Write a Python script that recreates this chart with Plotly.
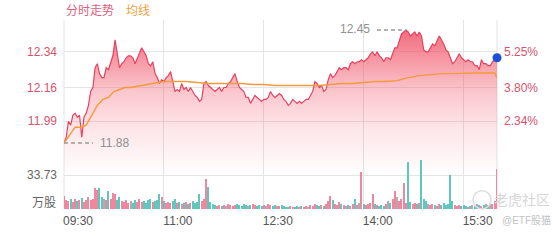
import plotly.graph_objects as go

# ---------------- data ----------------
time_labels = ["09:30", "11:00", "12:30", "14:00", "15:30"]
price_ticks = [11.99, 12.16, 12.34]
pct_labels = ["2.34%", "3.80%", "5.25%"]
vol_tick = 33.73
vol_unit = "万股"

# price sampled every 2 minutes from 09:30 to 16:00
price = [
    11.88, 11.91, 11.99, 11.97, 12.02, 12.03, 12.01, 12.02, 11.91, 12.01,
    12.03, 12.07, 12.14, 12.16, 12.26, 12.28, 12.23, 12.21, 12.21, 12.26,
    12.25, 12.28, 12.32, 12.40, 12.33, 12.26, 12.28, 12.29, 12.31, 12.32,
    12.32, 12.31, 12.28, 12.31, 12.34, 12.36, 12.34, 12.32, 12.28, 12.27,
    12.29, 12.23, 12.21, 12.18, 12.20, 12.19, 12.21, 12.22, 12.24, 12.18,
    12.14, 12.15, 12.14, 12.18, 12.15, 12.16, 12.14, 12.16, 12.14, 12.12,
    12.11, 12.09, 12.10, 12.18, 12.19, 12.17, 12.16, 12.15, 12.14, 12.15,
    12.16, 12.14, 12.16, 12.16, 12.18, 12.19, 12.21, 12.23, 12.19, 12.16,
    12.15, 12.14, 12.11, 12.11, 12.08, 12.10, 12.12, 12.11, 12.10, 12.09,
    12.10, 12.10, 12.11, 12.14, 12.12, 12.11, 12.12, 12.13, 12.12, 12.10,
    12.09, 12.07, 12.08, 12.10, 12.09, 12.08, 12.09, 12.08, 12.09, 12.10,
    12.10, 12.12, 12.14, 12.19, 12.18, 12.16, 12.17, 12.14, 12.15, 12.20,
    12.23, 12.21, 12.22, 12.24, 12.26, 12.25, 12.26, 12.26, 12.25, 12.28,
    12.29, 12.28, 12.29, 12.29, 12.30, 12.29, 12.30, 12.31, 12.33, 12.34,
    12.32, 12.34, 12.32, 12.31, 12.29, 12.31, 12.31, 12.30, 12.33, 12.36,
    12.36, 12.40, 12.43, 12.44, 12.45, 12.44, 12.42, 12.43, 12.44, 12.42,
    12.44, 12.42, 12.35, 12.34, 12.34, 12.36, 12.38, 12.37, 12.40, 12.42,
    12.40, 12.38, 12.35, 12.34, 12.31, 12.28, 12.29, 12.31, 12.33, 12.31,
    12.30, 12.29, 12.30, 12.29, 12.29, 12.27, 12.27, 12.25, 12.30, 12.28,
    12.28, 12.27, 12.27, 12.29, 12.30, 12.31,
]

# volume (万股) for the same 2-minute samples
volume = [
    13, 9, 8, 10, 7, 10, 8, 9, 11, 7,
    9, 12, 9, 10, 21, 19, 21, 12, 10, 9,
    18, 10, 16, 15, 9, 12, 8, 7, 9, 6,
    8, 6, 9, 7, 10, 7, 8, 6, 9, 10,
    7, 8, 9, 15, 12, 8, 6, 7, 6, 8,
    10, 6, 7, 5, 6, 7, 5, 6, 8, 6,
    7, 15, 8, 10, 30, 22, 7, 5, 4, 3,
    4, 3, 4, 3, 5, 4, 3, 4, 5, 4,
    3, 5, 4, 3, 4, 5, 4, 3, 4, 3,
    4, 3, 5, 4, 3, 4, 3, 3, 4, 3,
    2, 2, 3, 2, 2, 3, 2, 3, 2, 3,
    2, 4, 3, 5, 4, 3, 4, 3, 5, 8,
    13, 9, 5, 4, 7, 5, 4, 3, 4, 3,
    5, 10, 4, 6, 37, 5, 4, 5, 6, 15,
    5, 4, 3, 4, 3, 5, 8, 6, 10, 18,
    12, 8, 10, 26, 6, 47, 7, 5, 6, 5,
    6, 49, 10, 8, 5, 4, 5, 4, 3, 5,
    4, 6, 4, 5, 34, 8, 4, 3, 4, 3,
    4, 3, 2, 3, 4, 3, 5, 4, 3, 4,
    5, 4, 6, 5, 8, 40,
]

# average-price line
avg_minutes = [0, 5, 10, 15, 20, 25, 30, 35, 40, 45, 50, 55, 60,
               70, 80, 90, 100, 110, 120, 130, 140, 150, 160, 170, 180,
               190, 200, 210, 220, 230, 240, 250, 260, 270, 280, 290, 300,
               310, 320, 330, 340, 350, 360, 370, 380, 388, 390]
avg_price = [11.88, 11.92, 11.96, 11.96, 11.97, 12.02, 12.07, 12.10, 12.11, 12.14, 12.15, 12.16, 12.16,
             12.17, 12.18, 12.19, 12.19, 12.19, 12.185, 12.18, 12.18, 12.18, 12.18, 12.175, 12.175,
             12.17, 12.17, 12.17, 12.17, 12.17, 12.175, 12.18, 12.18, 12.185, 12.19, 12.19, 12.195,
             12.21, 12.22, 12.225, 12.23, 12.23, 12.233, 12.233, 12.233, 12.233, 12.21]

# ---------------- derived ----------------
minutes = list(range(0, 2 * len(price), 2))
open_min = 9 * 60 + 30
tick_min = [int(t[:2]) * 60 + int(t[3:]) - open_min for t in time_labels]
session_end = minutes[-1]

UP, DOWN, FLAT = "#ee7b95", "#4dc3b5", "#aaa3ab"
bar_colors = []
for i, p in enumerate(price):
    prev = price[i - 1] if i else avg_price[0] - 0.01
    bar_colors.append(UP if p > prev else (DOWN if p < prev else FLAT))

i_max = max(range(len(price)), key=lambda i: price[i])
i_min = min(range(len(price)), key=lambda i: price[i])

PRICE_RANGE = [11.5476, 12.5004]
VOL_RANGE = [0, 188.9]
FILL_BASE = 11.74

GRID = "#e4e4e4"
FONT = "Liberation Sans, Arial, Noto Sans CJK SC, sans-serif"
RED_TXT = "#d5536d"

fig = go.Figure()

fig.add_trace(go.Scatter(x=[minutes[0], session_end], y=[FILL_BASE, FILL_BASE],
                         mode="lines", line=dict(width=0), hoverinfo="skip",
                         showlegend=False))
fig.add_trace(go.Scatter(
    x=minutes, y=price, mode="lines",
    line=dict(color="#e8415f", width=1.2),
    fill="tonexty",
    fillgradient=dict(type="vertical", start=FILL_BASE, stop=12.46,
                      colorscale=[[0, "rgba(240,80,100,0)"],
                                  [0.33, "rgba(240,80,100,0.15)"],
                                  [0.57, "rgba(240,80,100,0.32)"],
                                  [1, "rgba(240,80,100,0.85)"]]),
    showlegend=False, hoverinfo="skip"))
fig.add_trace(go.Scatter(x=avg_minutes, y=avg_price, mode="lines",
                         line=dict(color="#f59a3a", width=1.4),
                         showlegend=False, hoverinfo="skip"))
fig.add_trace(go.Bar(x=minutes, y=volume, yaxis="y2", width=1.1, opacity=0.9,
                     marker=dict(color=bar_colors, line=dict(width=0)),
                     showlegend=False, hoverinfo="skip"))

fig.update_layout(
    width=560, height=240,
    margin=dict(l=64, r=63, t=20, b=24),
    paper_bgcolor="white", plot_bgcolor="white",
    font=dict(family=FONT, size=12, color="#666"),
    bargap=0,
    xaxis=dict(range=[0, session_end], tickvals=tick_min, ticktext=time_labels,
               showgrid=True, gridcolor=GRID, gridwidth=1, zeroline=False,
               ticks="", showline=False, ticklabelshift=14, ticklabelstandoff=3,
               tickfont=dict(size=12, color="#555")),
    yaxis=dict(range=PRICE_RANGE, tickvals=price_ticks,
               ticktext=[f"{v:.2f}" for v in price_ticks],
               showgrid=True, gridcolor=GRID, zeroline=False, ticks="",
               showline=False, ticklabelstandoff=6,
               tickfont=dict(size=12, color=RED_TXT)),
    yaxis2=dict(range=VOL_RANGE, overlaying="y", side="left",
                tickvals=[vol_tick], ticktext=[f"{vol_tick:.2f}"],
                showgrid=True, gridcolor=GRID, zeroline=False, ticks="",
                ticklabelstandoff=6,
                tickfont=dict(size=12, color="#666")),
    yaxis3=dict(range=PRICE_RANGE, overlaying="y", side="right",
                tickvals=price_ticks, ticktext=pct_labels,
                showgrid=False, zeroline=False, ticks="", ticklabelstandoff=6,
                tickfont=dict(size=12, color=RED_TXT)),
)
# invisible trace so yaxis3 is displayed
fig.add_trace(go.Scatter(x=[minutes[-1]], y=[price[-1]], yaxis="y3", mode="markers",
                         marker=dict(opacity=0), showlegend=False, hoverinfo="skip"))
# last-price dot, on top of everything
fig.add_trace(go.Scatter(x=[minutes[-1]], y=[price[-1]], yaxis="y3", mode="markers",
                         marker=dict(color="#1f4fd6", size=9), cliponaxis=False,
                         showlegend=False, hoverinfo="skip"))

# left / right borders drawn below the data
for xb in (0, 1):
    fig.add_shape(type="line", xref="paper", yref="paper", x0=xb, x1=xb, y0=0, y1=1,
                  layer="below", line=dict(color=GRID, width=1))

# max / min labels with dashed leaders
fig.add_shape(type="line", xref="x", yref="y", xsizemode="pixel",
              xanchor=minutes[i_max], x0=-29, x1=0,
              y0=price[i_max], y1=price[i_max],
              line=dict(color="#9a9a9a", width=1.5, dash="4px,3px"))
fig.add_annotation(x=minutes[i_max], y=price[i_max], xref="x", yref="y",
                   text=f"{price[i_max]:.2f}", showarrow=False,
                   xanchor="right", xshift=-34, yshift=1,
                   font=dict(size=12, color="#8f8f8f"))
fig.add_shape(type="line", xref="x", yref="y", xsizemode="pixel",
              xanchor=minutes[i_min], x0=0, x1=29,
              y0=price[i_min], y1=price[i_min],
              line=dict(color="#9a9a9a", width=1.5, dash="4px,3px"))
fig.add_annotation(x=minutes[i_min], y=price[i_min], xref="x", yref="y",
                   text=f"{price[i_min]:.2f}", showarrow=False,
                   xanchor="left", xshift=34,
                   font=dict(size=12, color="#8f8f8f"))

# header legend text
fig.add_annotation(x=0, y=1.048, xref="paper", yref="paper", text="分时走势",
                   showarrow=False, xanchor="left", yanchor="middle",
                   font=dict(size=12, color="#e0607a"))
fig.add_annotation(x=0.1386, y=1.048, xref="paper", yref="paper", text="均线",
                   showarrow=False, xanchor="left", yanchor="middle",
                   font=dict(size=12, color="#f0a040"))
# volume unit
fig.add_annotation(x=0, y=0.031, xref="paper", yref="paper", text=vol_unit,
                   showarrow=False, xanchor="right", yanchor="middle", xshift=-6,
                   font=dict(size=12, color="#666"))
# watermark
fig.add_shape(type="circle", xref="paper", yref="paper",
              x0=0.9446, x1=0.9862, y0=0.0, y1=0.097,
              line=dict(color="#dedede", width=1.5))
fig.add_annotation(x=1.0577, y=0.046, xref="paper", yref="paper", text="老虎社区",
                   showarrow=False, xanchor="center", yanchor="middle",
                   font=dict(size=14, color="#d6d6d6"))
fig.add_annotation(x=1.068, y=-0.056, xref="paper", yref="paper", text="@ETF股猫",
                   showarrow=False, xanchor="center", yanchor="middle",
                   font=dict(size=10, color="#c4c4c4"))

fig.write_html("out.html")
